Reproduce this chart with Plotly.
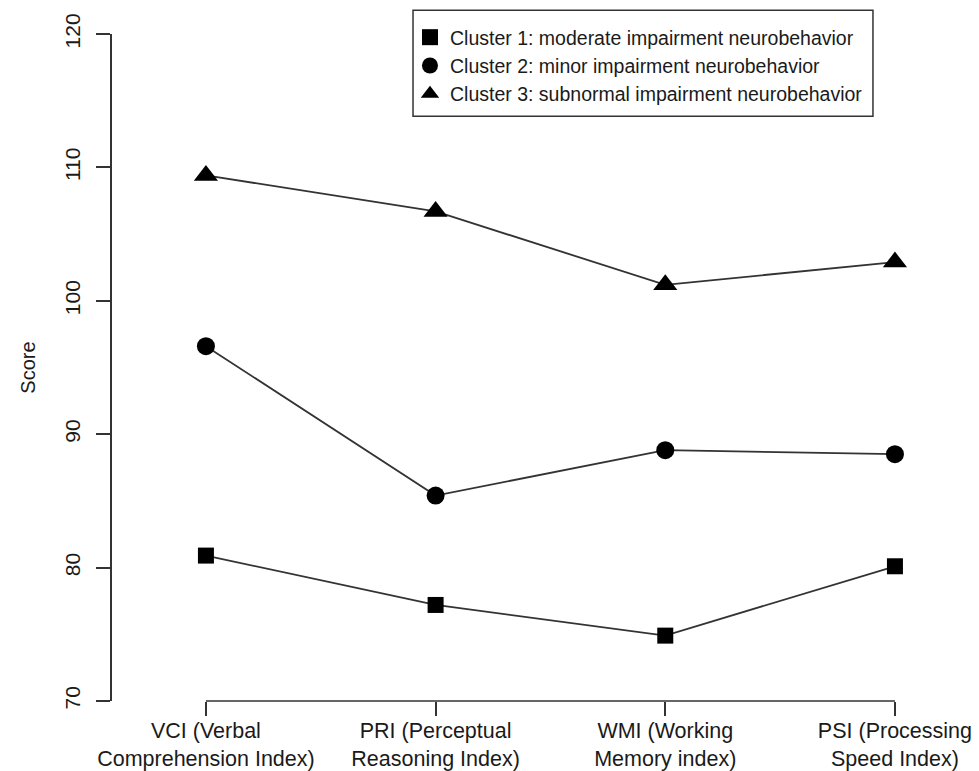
import plotly.graph_objects as go

# Index categories along the x axis
categories = [
    "VCI (Verbal<br>Comprehension Index)",
    "PRI (Perceptual<br>Reasoning Index)",
    "WMI (Working<br>Memory index)",
    "PSI (Processing<br>Speed Index)",
]
x_pos = list(range(len(categories)))

# Mean scores per cluster
cluster1 = [80.9, 77.2, 74.9, 80.1]
cluster2 = [96.6, 85.4, 88.8, 88.5]
cluster3 = [109.4, 106.7, 101.2, 102.9]

series = [
    ("Cluster 1: moderate impairment neurobehavior", cluster1, "square", 16),
    ("Cluster 2: minor impairment neurobehavior", cluster2, "circle", 18),
    ("Cluster 3: subnormal impairment neurobehavior", cluster3, "triangle-up", 21),
]

y_ticks = [70, 80, 90, 100, 110, 120]

FONT = "Liberation Sans, Arial, sans-serif"
INK = "#1a1a1a"
LINE = "#333333"

fig = go.Figure()
for name, vals, sym, size in series:
    fig.add_trace(go.Scatter(
        x=x_pos, y=vals, mode="lines",
        line=dict(color=LINE, width=1.8),
        showlegend=False, hoverinfo="skip",
    ))
    fig.add_trace(go.Scatter(
        x=x_pos, y=vals, mode="markers", name=name,
        marker=dict(symbol=sym, size=size, color="black"),
        cliponaxis=False,
    ))

# Axis line only spans the first to last category, like base R graphics
fig.add_shape(type="line", xref="x", yref="paper",
              x0=x_pos[0], x1=x_pos[-1], y0=0, y1=0,
              line=dict(color=LINE, width=1.5))

# Frame around the legend
fig.add_shape(type="rect", xref="paper", yref="paper",
              x0=0.3472, x1=0.8777, y0=0.8767, y1=1.0357,
              line=dict(color=LINE, width=1.5), fillcolor="rgba(0,0,0,0)")

fig.update_layout(
    width=979, height=771,
    margin=dict(l=112, r=0, t=34, b=64),
    paper_bgcolor="white", plot_bgcolor="white",
    font=dict(family=FONT, size=20, color=INK),
    xaxis=dict(
        range=[-0.409, 3.366],
        tickvals=x_pos, ticktext=categories,
        showgrid=False, zeroline=False, showline=False,
        ticks="outside", ticklen=14, tickwidth=1.5, tickcolor=LINE,
        tickfont=dict(size=21.5, color=INK),
        ticklabelstandoff=-4,
    ),
    yaxis=dict(
        range=[70, 120], tickvals=y_ticks,
        showgrid=False, zeroline=False,
        showline=True, linecolor=LINE, linewidth=1.5,
        ticks="outside", ticklen=14, tickwidth=1.5, tickcolor=LINE,
        tickangle=-90, ticklabelstandoff=8,
        tickfont=dict(size=21, color=INK),
        title=dict(text="Score", font=dict(size=20, color=INK), standoff=20),
    ),
    legend=dict(
        x=0.3437, xanchor="left", y=1.024, yanchor="top",
        borderwidth=0, bgcolor="rgba(0,0,0,0)",
        font=dict(size=19.5, color=INK), tracegroupgap=0,
        itemwidth=30,
    ),
    showlegend=True,
)

fig.write_html("out.html")
